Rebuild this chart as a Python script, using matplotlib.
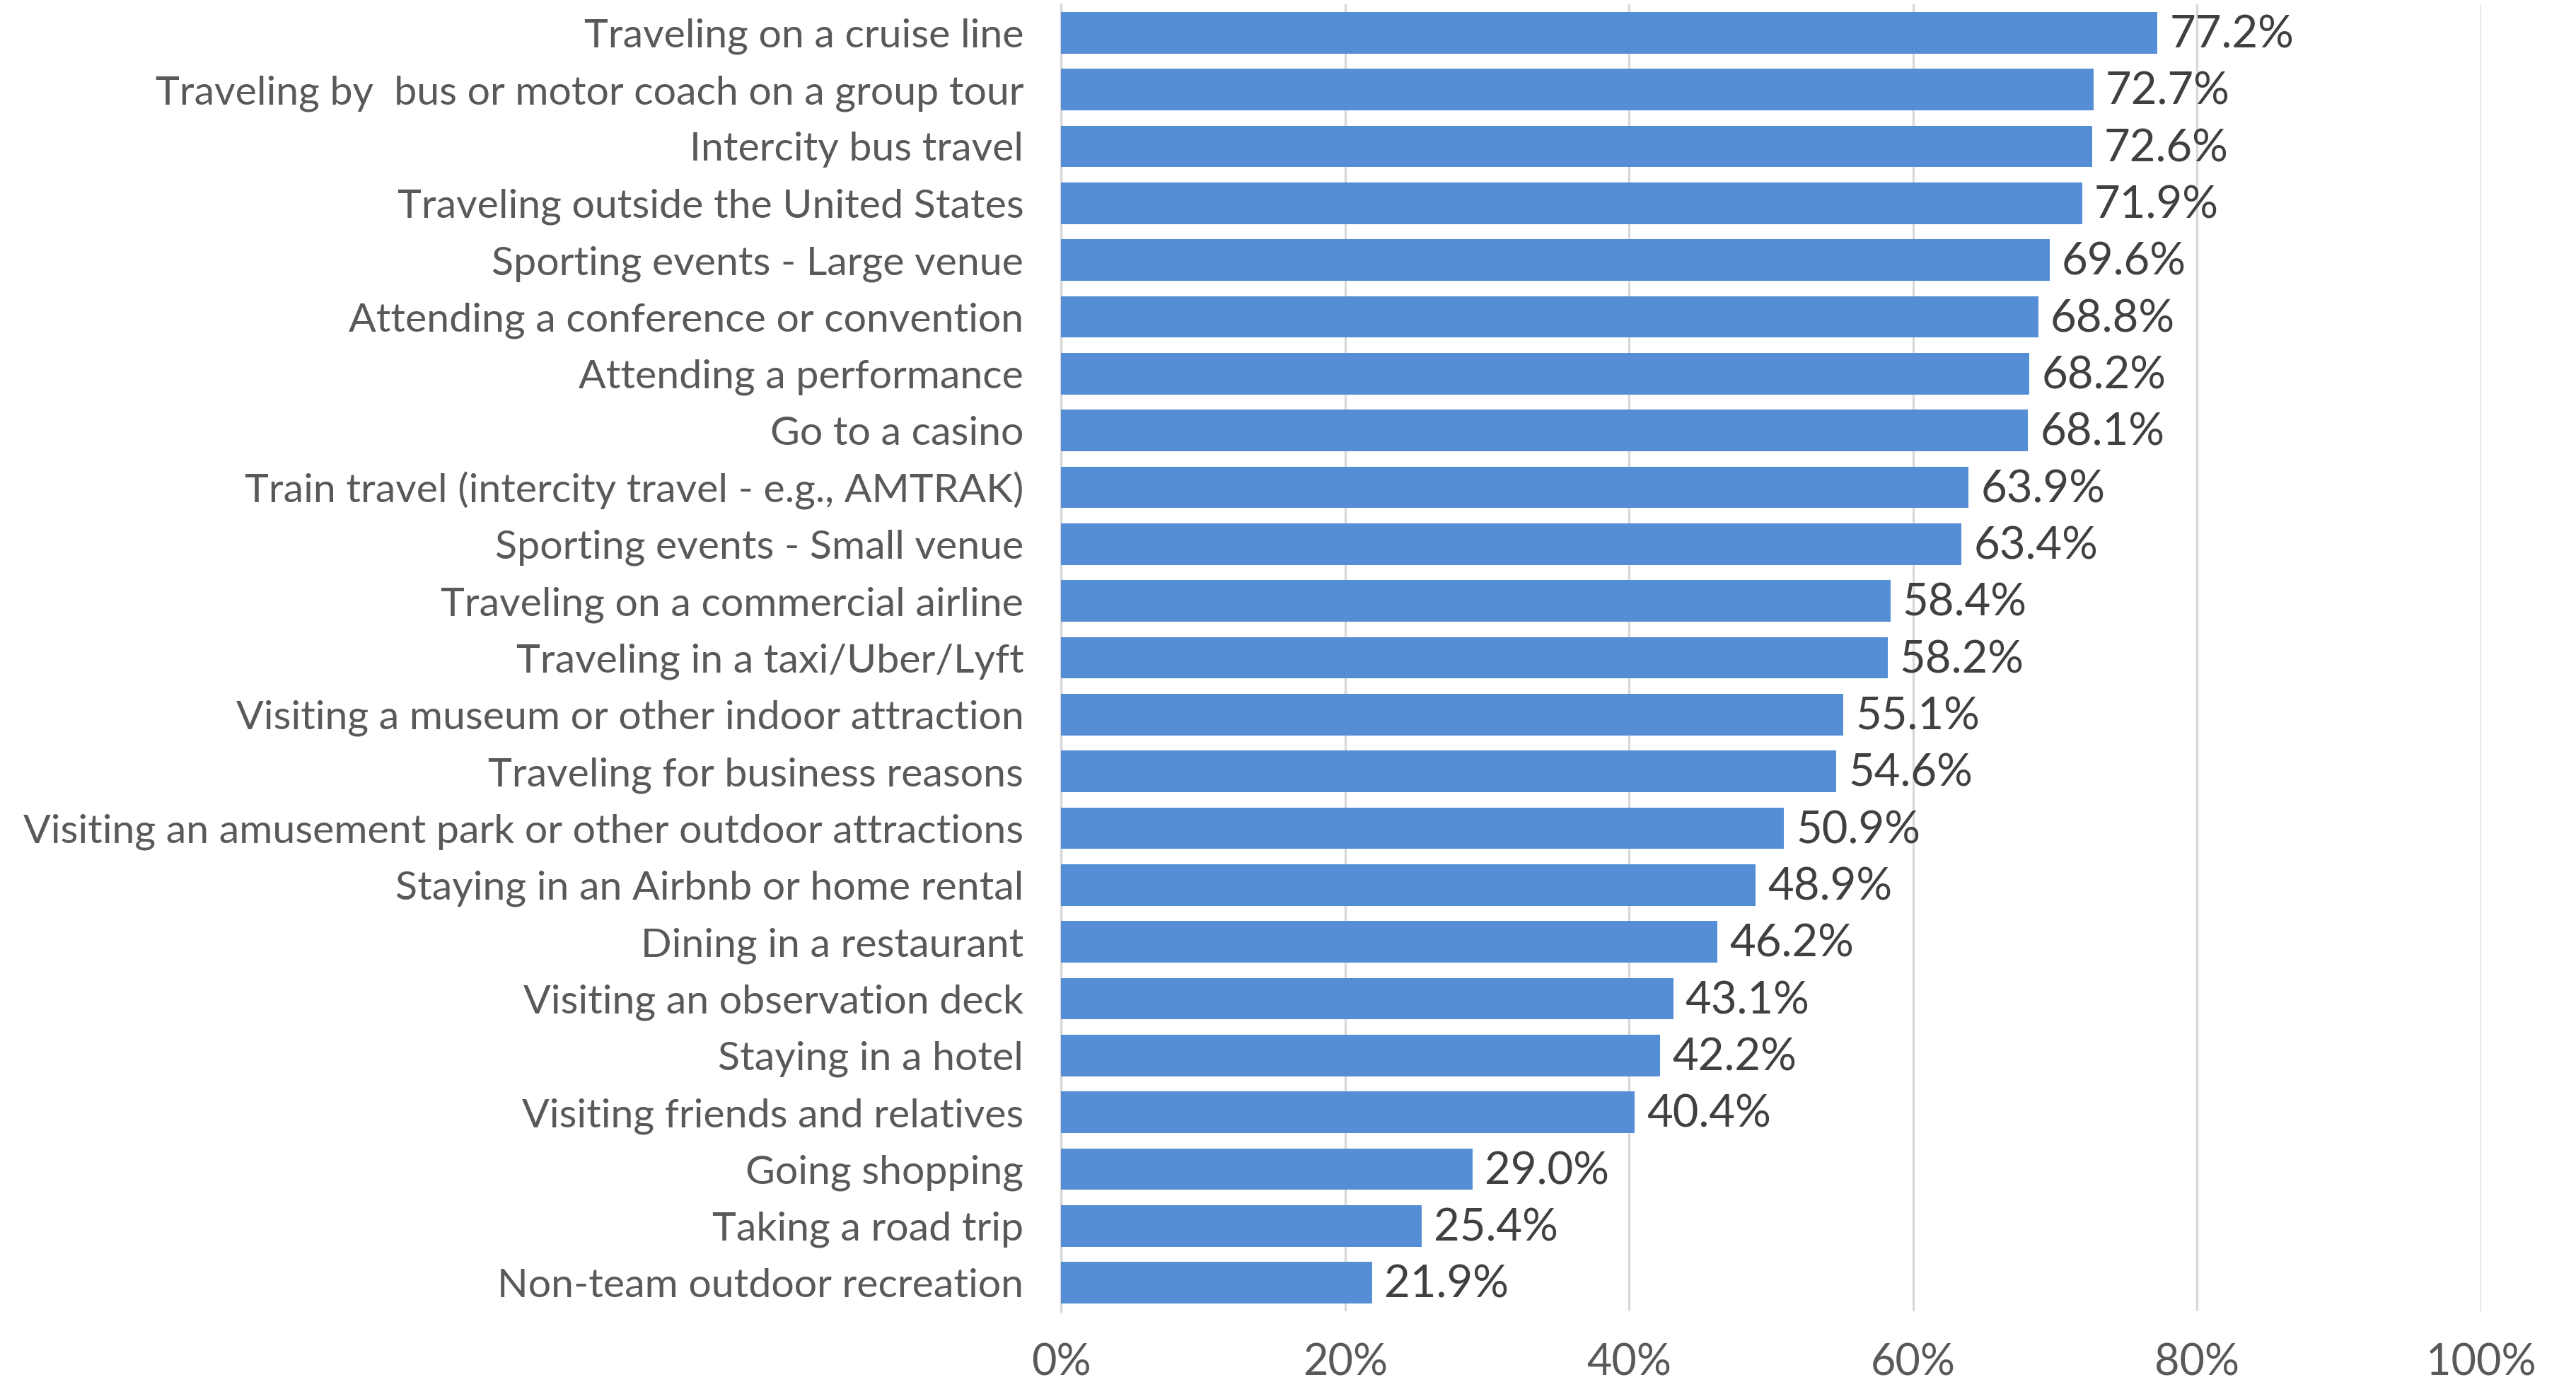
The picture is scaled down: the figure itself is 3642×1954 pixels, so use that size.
import matplotlib.pyplot as plt
from matplotlib.ticker import PercentFormatter

# activities and share of respondents (%)
activities = [
    "Traveling on a cruise line",
    "Traveling by  bus or motor coach on a group tour",
    "Intercity bus travel",
    "Traveling outside the United States",
    "Sporting events - Large venue",
    "Attending a conference or convention",
    "Attending a performance",
    "Go to a casino",
    "Train travel (intercity travel - e.g., AMTRAK)",
    "Sporting events - Small venue",
    "Traveling on a commercial airline",
    "Traveling in a taxi/Uber/Lyft",
    "Visiting a museum or other indoor attraction",
    "Traveling for business reasons",
    "Visiting an amusement park or other outdoor attractions",
    "Staying in an Airbnb or home rental",
    "Dining in a restaurant",
    "Visiting an observation deck",
    "Staying in a hotel",
    "Visiting friends and relatives",
    "Going shopping",
    "Taking a road trip",
    "Non-team outdoor recreation",
]
values = [77.2, 72.7, 72.6, 71.9, 69.6, 68.8, 68.2, 68.1, 63.9, 63.4, 58.4,
          58.2, 55.1, 54.6, 50.9, 48.9, 46.2, 43.1, 42.2, 40.4, 29.0, 25.4, 21.9]
x_ticks = [0, 20, 40, 60, 80, 100]

plt.rcParams['font.family'] = ['Lato', 'DejaVu Sans']

fig = plt.figure(figsize=(18.21, 9.77), dpi=200)
ax = fig.add_axes([0.4119, 0.0512, 0.9632 - 0.4119, 0.9969 - 0.0512])

y = list(range(len(activities)))
bars = ax.barh(y, values, height=0.73, color='#558ED5', zorder=3)

for yi, v in zip(y, values):
    ax.text(v + 0.85, yi + 0.04, f"{v:.1f}%", va='center', ha='left',
            fontsize=22.8, color='#404040')

ax.set_xlim(0, 100)
ax.set_ylim(len(activities) - 0.5, -0.5)
ax.set_yticks(y)
ax.set_yticklabels(activities, fontsize=20.6, color='#595959')
ax.set_xticks(x_ticks)
ax.xaxis.set_major_formatter(PercentFormatter(decimals=0))
ax.tick_params(axis='x', length=0, pad=16, labelsize=22, labelcolor='#595959')
ax.tick_params(axis='y', length=0, pad=19)

ax.grid(axis='x', color='#D9D9D9', linewidth=1.2, zorder=0)
for side in ['top', 'right', 'bottom']:
    ax.spines[side].set_visible(False)
ax.spines['left'].set_color('#D9D9D9')
ax.spines['left'].set_linewidth(1.2)

fig.savefig("out.png", dpi=200)
